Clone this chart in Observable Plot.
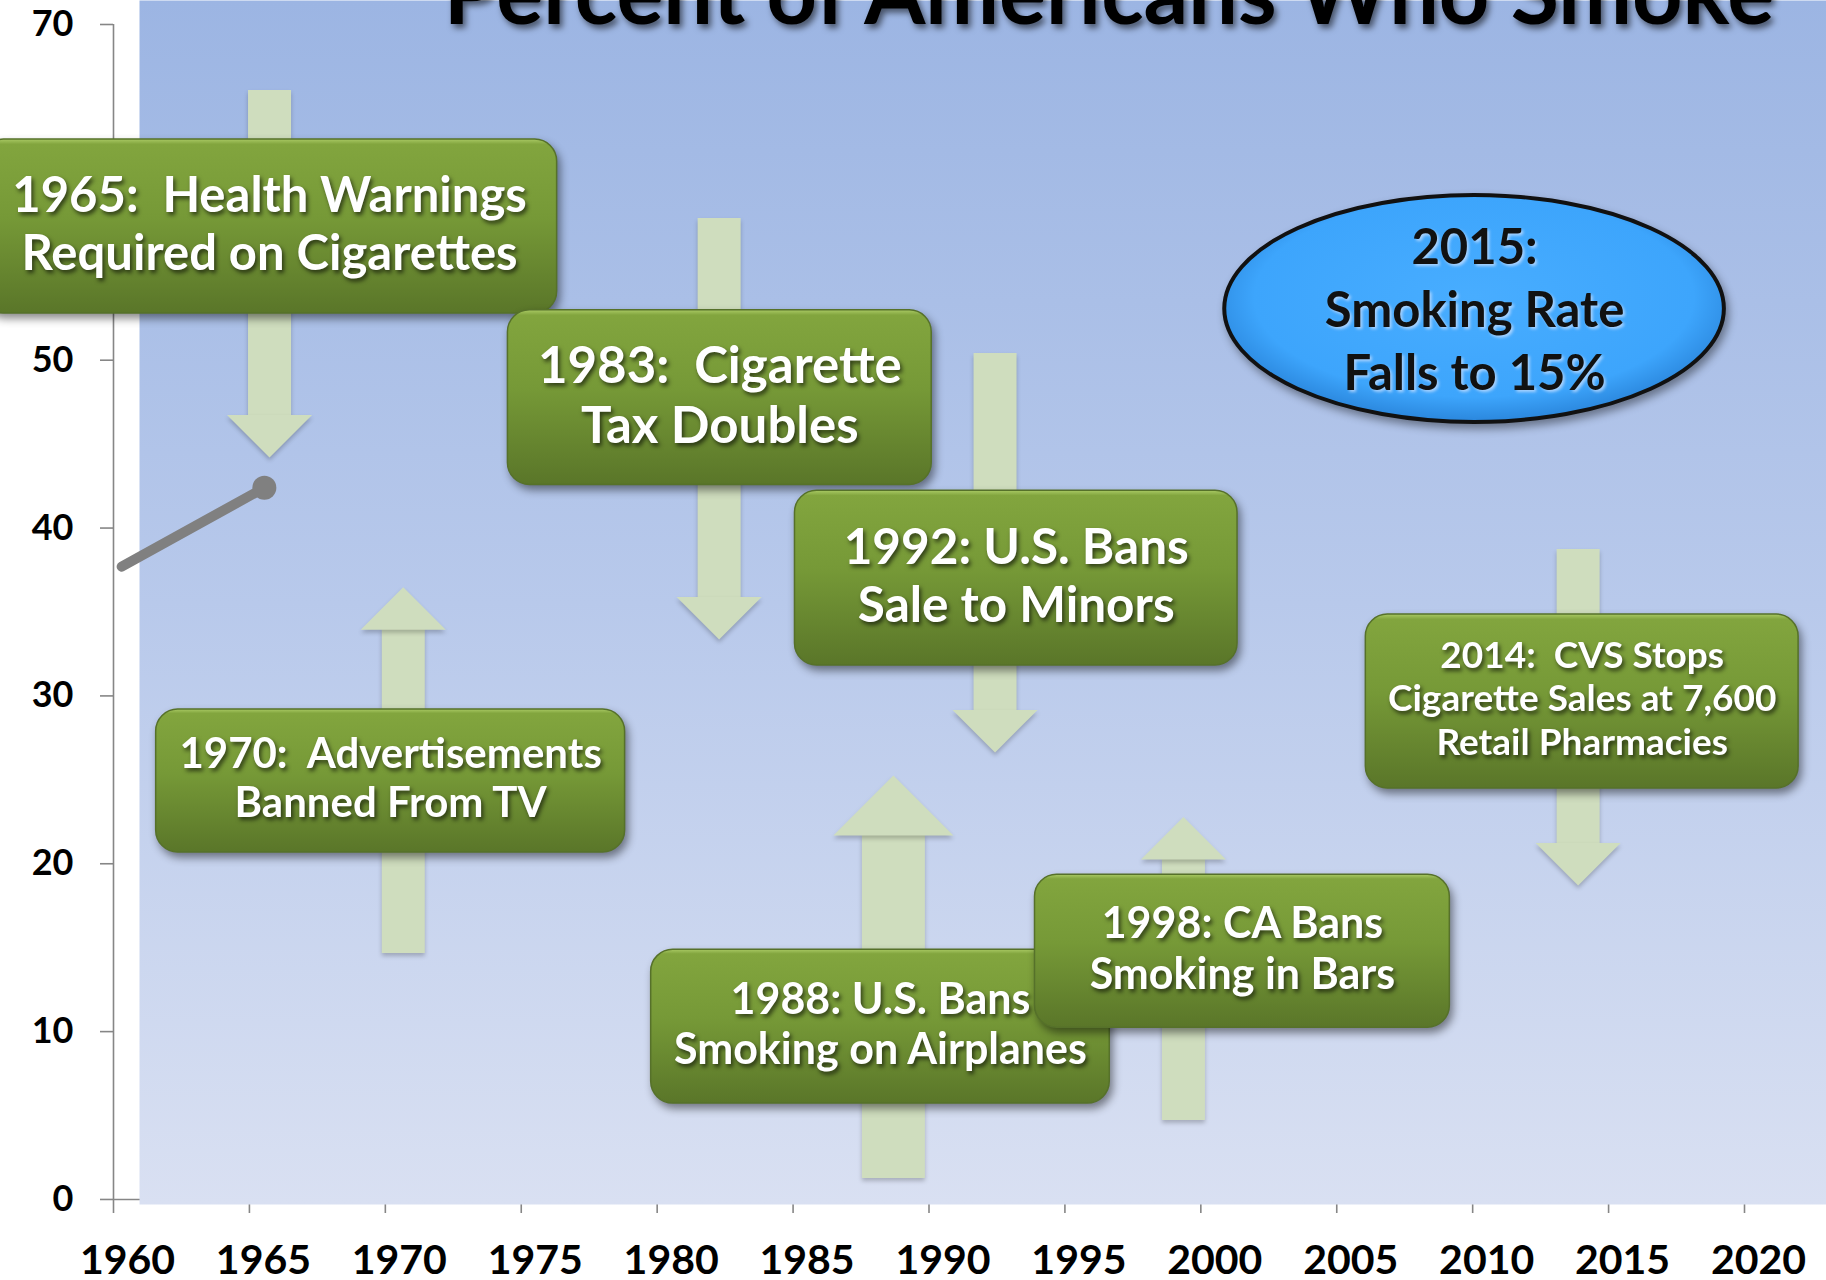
<!DOCTYPE html>
<html>
<head>
<meta charset="utf-8">
<script src="https://cdn.jsdelivr.net/npm/d3@7"></script>
<script src="https://cdn.jsdelivr.net/npm/@observablehq/plot@0.6"></script>
<style>
  html, body { margin: 0; padding: 0; background: #fff; }
  #chart svg { display: block; overflow: hidden; }
  [aria-label^="y-axis"] text { font-family: Lato, sans-serif; font-size: 36px; font-weight: 700; fill: #000; }
  [aria-label^="y-axis"] line, [aria-label^="y-axis"] path,
  [aria-label^="x-axis"] line, [aria-label^="x-axis"] path { stroke: #868686; stroke-width: 1.6px; }
  g[aria-description="title"] text { filter: drop-shadow(3px 4px 3px rgba(0,0,0,0.55)); }
  g[aria-description="arrows"] > * { filter: drop-shadow(0px 3px 2px rgba(0,0,0,0.22)); }
  g[aria-description="boxes"] rect { filter: drop-shadow(3px 5px 4px rgba(0,0,0,0.45)); }
  g[aria-description="box-text"] text { filter: drop-shadow(2px 3px 2px rgba(0,0,0,0.6)); }
  g[aria-description="callout"] rect { filter: drop-shadow(3px 5px 4px rgba(0,0,0,0.4)); }
  g[aria-description="callout-text"] text { filter: drop-shadow(2px 2px 1.5px rgba(215,230,255,0.7)); }
</style>
</head>
<body>
<div id="chart"></div>
<script>
// ---------- data ----------
const title = "Percent of Americans Who Smoke";
const xTicks = [1960, 1965, 1970, 1975, 1980, 1985, 1990, 1995, 2000, 2005, 2010, 2015, 2020];
const yTicks = [0, 10, 20, 30, 40, 50, 60, 70];

// smoking-rate line (only the first segment is shown)
const smokeYear = [1960.3, 1965.55];
const smokeRate = [37.7, 42.4];

// policy events
const eventYear = [1965, 1983, 1992, 1970, 1988, 1998, 2014];
const eventLabel = [
  "1965:  Health Warnings\nRequired on Cigarettes",
  "1983:  Cigarette\nTax Doubles",
  "1992: U.S. Bans\nSale to Minors",
  "1970:  Advertisements\nBanned From TV",
  "1988: U.S. Bans\nSmoking on Airplanes",
  "1998: CA Bans\nSmoking in Bars",
  "2014:  CVS Stops\nCigarette Sales at 7,600\nRetail Pharmacies"
];
// label boxes (year span, percent span)
const boxFrom = [1955.16, 1974.51, 1985.07, 1961.57, 1979.78, 1993.90, 2006.07];
const boxTo   = [1976.32, 1990.10, 2001.35, 1978.82, 1996.65, 2009.16, 2021.99];
const boxLow  = [52.78, 42.57, 31.81, 20.67, 5.71, 10.23, 24.49];
const boxHigh = [63.15, 52.97, 42.22, 29.19, 14.88, 19.34, 34.85];
// arrows (year, tail percent, tip percent)
const arrowYear = [1965.74, 1982.28, 1992.43, 1970.66, 1988.69, 1999.36, 2013.88];
const arrowTail = [66.07, 58.44, 50.4, 14.66, 1.25, 4.7, 38.72];
const arrowTip  = [44.2, 33.36, 26.63, 36.48, 25.26, 22.78, 18.71];

// 2015 callout
const calloutLabel = "2015:\nSmoking Rate\nFalls to 15%";
const calloutYears = [2000.88, 2019.26];
const calloutRange = [46.29, 59.81];

// ---------- tables ----------
const smoke = smokeYear.map((year, i) => ({year, rate: smokeRate[i]}));
const events = eventYear.map((year, i) => ({
  year, label: eventLabel[i],
  x1: boxFrom[i], x2: boxTo[i], y1: boxLow[i], y2: boxHigh[i],
  ax: arrowYear[i], tail: arrowTail[i], tip: arrowTip[i],
  up: arrowTip[i] > arrowTail[i]
}));
const callout = [{label: calloutLabel, x1: calloutYears[0], x2: calloutYears[1], y1: calloutRange[0], y2: calloutRange[1]}];

// ---------- styles ----------
const arrowColor = "#cfddbe";
const wideArrow = new Set([1988]);
const fontSizeFor = {1965: 49, 1983: 51, 1992: 49.5, 1970: 42, 1988: 43, 1998: 43, 2014: 37};
const font = "Lato, 'Open Sans', sans-serif";

const triDown = {draw(ctx, size) { const r = Math.sqrt(size / Math.PI); ctx.moveTo(-r, -r); ctx.lineTo(r, -r); ctx.lineTo(0, 0); ctx.closePath(); }};
const triUp = {draw(ctx, size) { const r = Math.sqrt(size / Math.PI); ctx.moveTo(-r, r); ctx.lineTo(r, r); ctx.lineTo(0, 0); ctx.closePath(); }};

function arrowMarks(list, up, wide) {
  const r = wide ? 60 : 42.5;
  const w = wide ? 63 : 43;
  const top = d => Math.max(d.tail, d.tip), bot = d => Math.min(d.tail, d.tip);
  return [
    Plot.ruleX(list, {x: "ax", y1: top, y2: bot, stroke: arrowColor, strokeWidth: w,
      insetTop: up ? r - 1 : 0, insetBottom: up ? 0 : r - 1, ariaDescription: "arrows"}),
    Plot.dot(list, {x: "ax", y: "tip", symbol: up ? triUp : triDown, r, fill: arrowColor, stroke: "none", ariaDescription: "arrows"})
  ];
}
const downA = events.filter(d => !d.up);
const upA = events.filter(d => d.up && !wideArrow.has(d.year));
const upWide = events.filter(d => d.up && wideArrow.has(d.year));

const svg = Plot.plot({
  width: 1826,
  height: 1280,
  marginLeft: 113,
  marginRight: 82,
  marginTop: 24,
  marginBottom: 76,
  style: {fontFamily: font, background: "#fff", overflow: "hidden"},
  x: {domain: [1960, 2020], ticks: xTicks, tickSize: 9, tickFormat: () => "", label: null},
  y: {domain: [-0.3, 70], ticks: yTicks, tickSize: 13, tickPadding: 27, tickFormat: d => String(d), label: null},
  marks: [
    Plot.ruleY([0], {stroke: "#868686", strokeWidth: 1.6}),
    Plot.frame({fill: "url(#bgGrad)", stroke: "none", insetLeft: 26, insetTop: -24, insetRight: -82}),
    Plot.ruleX([xTicks[0]], {stroke: "#868686", strokeWidth: 1.6}),
    Plot.text([title], {text: d => d, frameAnchor: "top", dx: 180, dy: -1, lineAnchor: "bottom",
      fontSize: 88, fontWeight: 700, fill: "#000", ariaDescription: "title"}),
    ...arrowMarks(downA, false, false),
    ...arrowMarks(upA, true, false),
    ...arrowMarks(upWide, true, true),
    Plot.line(smoke, {x: "year", y: "rate", stroke: "#808080", strokeWidth: 10, strokeLinecap: "round"}),
    Plot.dot(smoke.slice(-1), {x: "year", y: "rate", r: 12, fill: "#808080", stroke: "none"}),
    Plot.rect(events, {x1: "x1", x2: "x2", y1: "y1", y2: "y2", rx: 22, ry: 22,
      fill: "url(#greenGrad)", stroke: "#56712a", strokeWidth: 1.5, ariaDescription: "boxes"}),
    Plot.rect(callout, {x1: "x1", x2: "x2", y1: "y1", y2: "y2", rx: 2000, ry: 2000,
      fill: "url(#blueGrad)", stroke: "#111", strokeWidth: 4, ariaDescription: "callout"}),
    Plot.text(events, {x: d => (d.x1 + d.x2) / 2, y: d => (d.y1 + d.y2) / 2, text: "label", dy: -4,
      fontSize: d => fontSizeFor[d.year], lineHeight: 1.17, fontWeight: 700, fill: "#fff",
      fontFamily: font, ariaDescription: "box-text"}),
    Plot.text(callout, {x: d => (d.x1 + d.x2) / 2, y: d => (d.y1 + d.y2) / 2, text: "label", dy: -2,
      fontSize: 49, lineHeight: 1.29, fontWeight: 700, fill: "#111", fontFamily: font, ariaDescription: "callout-text"}),
    Plot.text(xTicks, {x: d => d, text: d => String(d), frameAnchor: "bottom", dx: 14, dy: 40,
      lineAnchor: "top", fontSize: 41, fontWeight: 700, fill: "#000", fontFamily: font})
  ]
});

const defs = d3.select(svg).insert("defs", ":first-child");
const bg = defs.append("linearGradient").attr("id", "bgGrad").attr("x1", 0).attr("y1", 0).attr("x2", 0).attr("y2", 1);
[["0%", "#9cb5e3"], ["50%", "#b8c9eb"], ["100%", "#d9e0f2"]].forEach(([o, c]) => bg.append("stop").attr("offset", o).attr("stop-color", c));
const gg = defs.append("linearGradient").attr("id", "greenGrad").attr("x1", 0).attr("y1", 0).attr("x2", 0).attr("y2", 1);
[["0%", "#a9c964"], ["3%", "#82a53e"], ["45%", "#769937"], ["100%", "#5a7629"]].forEach(([o, c]) => gg.append("stop").attr("offset", o).attr("stop-color", c));
const bl = defs.append("radialGradient").attr("id", "blueGrad").attr("cx", "50%").attr("cy", "45%").attr("r", "55%");
[["0%", "#48adff"], ["80%", "#3da5fc"], ["100%", "#2a86dc"]].forEach(([o, c]) => bl.append("stop").attr("offset", o).attr("stop-color", c));

document.getElementById("chart").appendChild(svg);
</script>
</body>
</html>
